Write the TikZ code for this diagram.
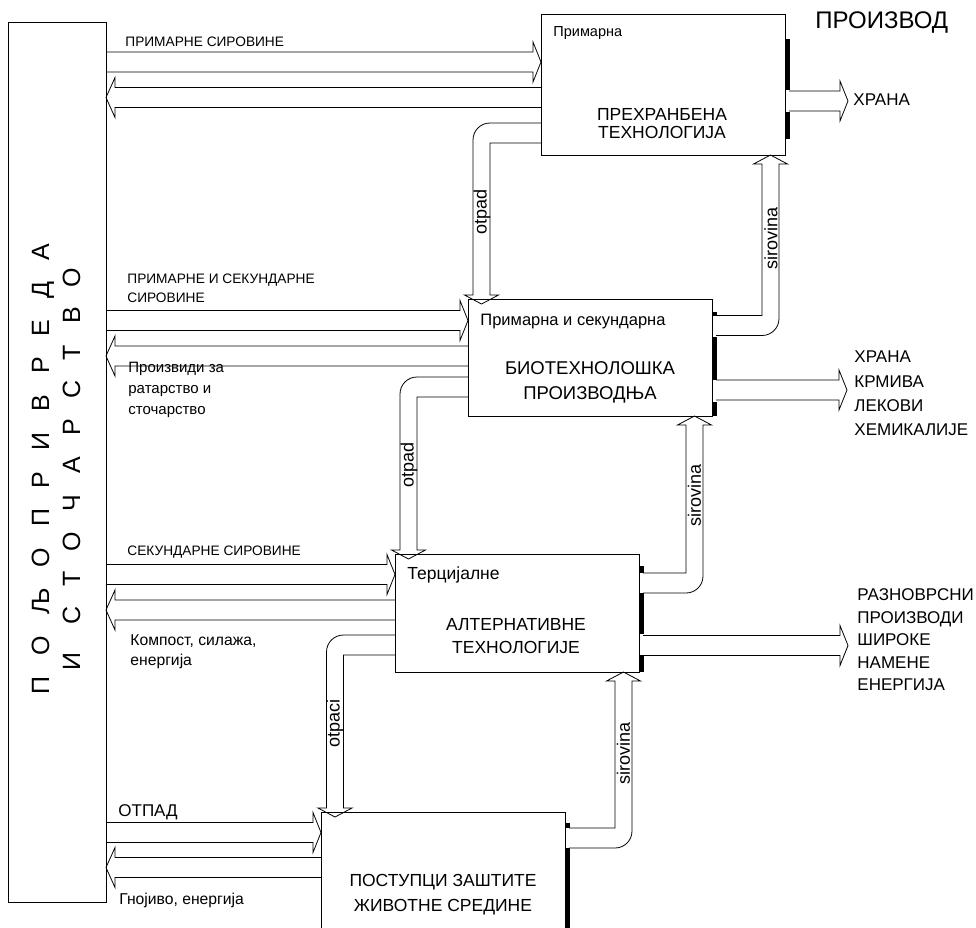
\documentclass[tikz,border=0pt]{standalone}
\usepackage{fontspec}
\setmainfont{Liberation Sans}
\newfontfamily\spacedfont[LetterSpace=84]{Liberation Sans}
\usetikzlibrary{calc}

% hollow arrows: #1 tail, #2 tip
\newcommand{\fwdarrow}[2]{%
  \draw ($(#1)+(0,-10)$) -- ($(#2)+(-8,-10)$) -- ($(#2)+(-8,-20)$) -- (#2)
    -- ($(#2)+(-8,20)$) -- ($(#2)+(-8,10)$) -- ($(#1)+(0,10)$);}
\newcommand{\backarrow}[2]{%
  \draw ($(#1)+(0,-10)$) -- ($(#2)+(9,-10)$) -- ($(#2)+(9,-20)$) -- (#2)
    -- ($(#2)+(9,20)$) -- ($(#2)+(9,10)$) -- ($(#1)+(0,10)$);}
% bent pipes: left side down to a top side, right side up to a bottom side
\newcommand{\wastepipe}[2]{%
  \draw ($(#1)+(0,-10)$) -- ($(#2|-#1)+(8.5,-10)$)
    .. controls ($(#2|-#1)+(-1,-10)$) and ($(#2|-#1)+(-8.5,-2.4)$) .. ($(#2|-#1)+(-8.5,7)$)
    -- ($(#2)+(-8.5,-9)$) -- ($(#2)+(-17,-9)$) -- (#2) -- ($(#2)+(17,-9)$)
    -- ($(#2)+(8.5,-9)$) -- ($(#2|-#1)+(8.5,10)$) -- ($(#1)+(0,10)$);}
\newcommand{\feedpipe}[2]{%
  \draw ($(#1)+(0,-10)$) -- ($(#2|-#1)+(-8.5,-10)$) -- ($(#2)+(-8.5,9)$)
    -- ($(#2)+(-17,9)$) -- (#2) -- ($(#2)+(17,9)$) -- ($(#2)+(8.5,9)$)
    -- ($(#2|-#1)+(8.5,-7)$)
    .. controls ($(#2|-#1)+(8.5,2.4)$) and ($(#2|-#1)+(1,10)$) .. ($(#2|-#1)+(-8.5,10)$)
    -- ($(#1)+(0,10)$);}

\begin{document}
\begin{tikzpicture}[x=1pt,y=-1pt,line width=.8pt,
  box/.style={draw,inner sep=0,anchor=north west,minimum width=244},
  caps/.style={anchor=west,inner sep=0,align=left,font=\fontsize{13.7}{19}\selectfont},
  note/.style={anchor=west,inner sep=0,align=left,font=\fontsize{15}{21}\selectfont},
  tag/.style={anchor=west,inner sep=0,font=\fontsize{16.5}{20}\selectfont},
  title/.style={inner sep=0,align=center,font=\fontsize{17.5}{24}\selectfont},
  product/.style={anchor=west,inner sep=0,align=left,font=\fontsize{17}{24}\selectfont},
  flow/.style={inner sep=0,rotate=90,font=\fontsize{18}{20}\selectfont}]
\useasboundingbox (0,0) rectangle (976,927);
\clip (0,0) rectangle (976,927);

\node[box,minimum width=98,minimum height=880] (farm) at (8,22) {};
\node[rotate=90,align=center,font=\spacedfont\fontsize{25}{31}\selectfont] (farmtxt) at (56,469) {ПОЉОПРИВРЕДА\\И СТОЧАРСТВО};

\node[box,minimum height=141] (prim) at (541,14) {};
\node[box,minimum height=117] (bio) at (468,299) {};
\node[box,minimum height=118] (tert) at (395,554) {};
\node[box,minimum height=130] (env) at (321,812) {};

% thick edges on the output side
\fill (785,39) rectangle (789.5,90);
\fill (785,112) rectangle (789.5,139);
\fill (712,312) rectangle (716.5,316);
\fill (712,337) rectangle (716.5,380);
\fill (712,402) rectangle (716.5,416);
\fill (639,566) rectangle (643.5,573);
\fill (639,593) rectangle (643.5,634);
\fill (639,655) rectangle (643.5,672);
\fill (565,823) rectangle (569.5,828);
\fill (565,848) rectangle (569.5,940);

% ends of the arrows
\coordinate (f1a) at (106,62);    \coordinate (f1b) at (541,62);
\coordinate (r1a) at (541,97.5);  \coordinate (r1b) at (106,97.5);
\coordinate (f2a) at (106,320.5); \coordinate (f2b) at (468,320.5);
\coordinate (r2a) at (468,356);   \coordinate (r2b) at (106,356);
\coordinate (f3a) at (106,574.5); \coordinate (f3b) at (395,574.5);
\coordinate (r3a) at (395,610);   \coordinate (r3b) at (106,610);
\coordinate (f4a) at (106,832.5); \coordinate (f4b) at (321,832.5);
\coordinate (r4a) at (321,867.5); \coordinate (r4b) at (106,867.5);
\coordinate (w1a) at (541,133);   \coordinate (w1b) at (481.5,304);
\coordinate (w2a) at (468,387);   \coordinate (w2b) at (408.5,559);
\coordinate (w3a) at (395,645);   \coordinate (w3b) at (335,817);
\coordinate (s1a) at (716,325.5); \coordinate (s1b) at (770.5,155);
\coordinate (s2a) at (643,583);   \coordinate (s2b) at (694.5,416);
\coordinate (s3a) at (569,838);   \coordinate (s3b) at (623.5,672);
\coordinate (h1a) at (789,101);   \coordinate (h1b) at (848,101);
\coordinate (h2a) at (716,390);   \coordinate (h2b) at (847,390);
\coordinate (h3a) at (643,645.5); \coordinate (h3b) at (848,645.5);

\fwdarrow{f1a}{f1b} \backarrow{r1a}{r1b}
\fwdarrow{f2a}{f2b} \backarrow{r2a}{r2b}
\fwdarrow{f3a}{f3b} \backarrow{r3a}{r3b}
\fwdarrow{f4a}{f4b} \backarrow{r4a}{r4b}
\wastepipe{w1a}{w1b} \wastepipe{w2a}{w2b} \wastepipe{w3a}{w3b}
\feedpipe{s1a}{s1b} \feedpipe{s2a}{s2b} \feedpipe{s3a}{s3b}
\fwdarrow{h1a}{h1b} \fwdarrow{h2a}{h2b} \fwdarrow{h3a}{h3b}

% texts in the boxes
\node[tag,font=\fontsize{14.5}{18}\selectfont] (primtag) at (553,33) {Примарна};
\node[title,font=\fontsize{17.5}{18}\selectfont] (primtxt) at (662,124) {ПРЕХРАНБЕНА\\ТЕХНОЛОГИЈА};
\node[tag] (biotag) at (480,322) {Примарна и секундарна};
\node[title,font=\fontsize{18.5}{25}\selectfont] (biotxt) at (590,382.5) {БИОТЕХНОЛОШКА\\ПРОИЗВОДЊА};
\node[tag,font=\fontsize{17.5}{20}\selectfont] (terttag) at (407,575) {Терцијалне};
\node[title,font=\fontsize{17.5}{23}\selectfont] (terttxt) at (516,636.5) {АЛТЕРНАТИВНЕ\\ТЕХНОЛОГИЈЕ};
\node[title,font=\fontsize{17.5}{25}\selectfont] (envtxt) at (443,894.5) {ПОСТУПЦИ ЗАШТИТЕ\\ЖИВОТНЕ СРЕДИНЕ};

% texts on the left
\node[caps] (in1) at (125,42) {ПРИМАРНЕ СИРОВИНЕ};
\node[caps] (in2) at (127,288.5) {ПРИМАРНЕ И СЕКУНДАРНЕ\\СИРОВИНЕ};
\node[note] (out2) at (128,390) {Произвиди за\\ратарство и\\сточарство};
\node[caps] (in3) at (127,552) {СЕКУНДАРНЕ СИРОВИНЕ};
\node[note,font=\fontsize{15.7}{20}\selectfont] (out3) at (130,652) {Компост, силажа,\\енергија};
\node[product] (in4) at (118,812) {ОТПАД};
\node[note,font=\fontsize{15.7}{20}\selectfont] (out4) at (119,900) {Гнојиво, енергија};

% texts on the pipes
\node[flow] (w1txt) at (482,212) {otpad};
\node[flow] (w2txt) at (409,465) {otpad};
\node[flow] (w3txt) at (335,723) {otpaci};
\node[flow] (s1txt) at (771,238) {sirovina};
\node[flow] (s2txt) at (694.5,495) {sirovina};
\node[flow] (s3txt) at (623.5,753) {sirovina};

% products
\node[product,font=\fontsize{24}{28}\selectfont] (prod) at (815,23) {ПРОИЗВОД};
\node[product] (prod1) at (853,100) {ХРАНА};
\node[product,font=\fontsize{17}{24.3}\selectfont] (prod2) at (854,393.5) {ХРАНА\\КРМИВА\\ЛЕКОВИ\\ХЕМИКАЛИЈЕ};
\node[product,font=\fontsize{17}{22.5}\selectfont] (prod3) at (857,640) {РАЗНОВРСНИ\\ПРОИЗВОДИ\\ШИРОКЕ\\НАМЕНЕ\\ЕНЕРГИЈА};
\end{tikzpicture}
\end{document}
